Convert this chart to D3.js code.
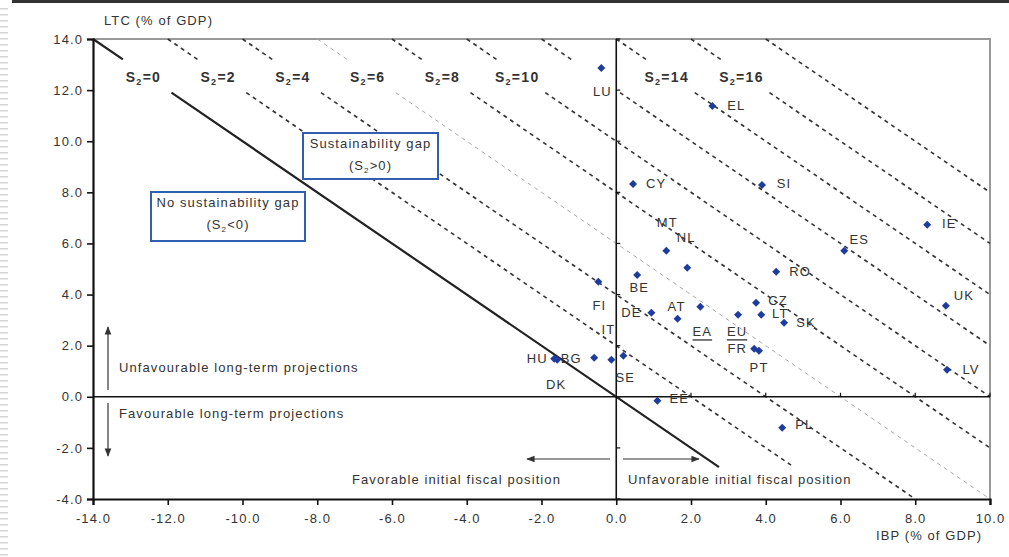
<!DOCTYPE html>
<html>
<head>
<meta charset="utf-8">
<script src="https://cdn.jsdelivr.net/npm/d3@7"></script>
<style>
  body { margin: 0; background: #fff; }
  svg { font-family: "Liberation Sans", Arial, sans-serif; }
  .lbl { font-size: 13px; fill: #333; letter-spacing: 1.1px; }
</style>
</head>
<body>
<svg id="chart" width="1009" height="557"></svg>
<script>
// Country codes and values (IBP on x, LTC on y)
const countries = ["LU","EL","CY","SI","IE","ES","MT","NL","RO","BE","FI","DE","AT","EA","EU","CZ","LT","SK","UK","FR","PT","LV","PL","EE","HU","DK","BG","IT","SE"];
const ibpValues = [-0.40, 2.57, 0.45, 3.90, 8.32, 6.10, 1.34, 1.90, 4.28, 0.56, -0.48, 0.94, 1.64, 2.25, 3.26, 3.74, 3.88, 4.49, 8.82, 3.69, 3.82, 8.85, 4.44, 1.10, -1.66, -1.58, -0.59, -0.13, 0.19];
const ltcValues = [12.87, 11.38, 8.33, 8.29, 6.73, 5.71, 5.71, 5.05, 4.89, 4.77, 4.50, 3.29, 3.05, 3.52, 3.21, 3.68, 3.21, 2.90, 3.56, 1.88, 1.80, 1.06, -1.21, -0.16, 1.49, 1.45, 1.53, 1.45, 1.61];
const aggregates = ["EA", "EU"];

// S2 iso-lines (IBP + LTC = S2)
const s2Levels = [0, 2, 4, 6, 8, 10, 12, 14, 16, 18];
const s2Labelled = [0, 2, 4, 6, 8, 10, 14, 16];
const s2Light = [6];

// Axis ticks
const xTicks = [-14, -12, -10, -8, -6, -4, -2, 0, 2, 4, 6, 8, 10];
const yTicks = [-4, -2, 0, 2, 4, 6, 8, 10, 12, 14];

// label offsets in px from each point [dx, dy]
const labelOffset = {
  LU:[1,24], EL:[24,0], CY:[23,0], SI:[22,-1], IE:[22,-1], ES:[15,-11], MT:[1,-28], NL:[-1,-30],
  RO:[24,0], BE:[2,13], FI:[1,24], DE:[-20,0], AT:[-1,-12], EA:[2,25], EU:[-1,17], CZ:[22,-2],
  LT:[19,-1], SK:[22,0], UK:[18,-10], FR:[-17,0], PT:[0,17], LV:[24,0], PL:[22,-3], EE:[22,-2],
  HU:[-17,0], DK:[-1,25], BG:[-23,1], IT:[-3,-30], SE:[2,22]
};

const svg = d3.select("#chart");
const x = d3.scaleLinear().domain([-14, 10]).range([93, 990]);
const y = d3.scaleLinear().domain([-4, 14]).range([499, 39]);

// page decorations: top rule and left ruler
svg.append("line").attr("x1", 12).attr("x2", 1009).attr("y1", 1.5).attr("y2", 1.5)
  .attr("stroke", "#333").attr("stroke-width", 3);
svg.append("line").attr("x1", 4).attr("x2", 4).attr("y1", 8).attr("y2", 557)
  .attr("stroke", "#d6d6d6").attr("stroke-width", 8).attr("stroke-dasharray", "1.5 4.5");

// top and right frame
svg.append("path")
  .attr("d", `M${x(-14)},${y(14)}H${x(10)}V${y(-4)}`)
  .attr("fill", "none").attr("stroke", "#999").attr("stroke-width", 2);

// S2 lines, with a gap where the labels sit
const gapTop = 13.2, gapBottom = 11.9;
s2Levels.forEach(c => {
  const x0 = Math.max(-14, c - 14), y0 = c - x0;
  let x1, y1;
  if (c < 4) { y1 = -2.75; x1 = c - y1; }
  else if (c - 10 >= -4) { x1 = 10; y1 = c - 10; }
  else { y1 = -4; x1 = c + 4; }
  const segs = c === 18 ? [[[x0, y0], [x1, y1]]]
    : [[[x0, y0], [c - gapTop, gapTop]], [[c - gapBottom, gapBottom], [x1, y1]]];
  const light = s2Light.includes(c);
  segs.forEach(s => {
    svg.append("line")
      .attr("x1", x(s[0][0])).attr("y1", y(s[0][1]))
      .attr("x2", x(s[1][0])).attr("y2", y(s[1][1]))
      .attr("stroke", c === 0 ? "#222" : (light ? "#aaa" : "#333"))
      .attr("stroke-width", c === 0 ? 2.2 : (light ? 1 : 1.6))
      .attr("stroke-dasharray", c === 0 ? null : "4 4");
  });
});

// S2 labels
s2Labelled.forEach(c => {
  const t = svg.append("text")
    .attr("x", x(c - 12.65)).attr("y", y(12.52) + 5)
    .attr("text-anchor", "middle").attr("letter-spacing", 1.3)
    .attr("font-size", 14).attr("font-weight", "bold").attr("fill", "#333");
  t.append("tspan").text("S");
  t.append("tspan").attr("font-size", 9).attr("dy", 3).text("2");
  t.append("tspan").attr("dy", -3).text("=" + c);
});

// inner axes through 0
svg.append("line").attr("x1", x(0)).attr("x2", x(0)).attr("y1", y(14)).attr("y2", y(-4))
  .attr("stroke", "#111").attr("stroke-width", 1.6);
svg.append("line").attr("x1", x(-14)).attr("x2", x(10)).attr("y1", y(0)).attr("y2", y(0))
  .attr("stroke", "#111").attr("stroke-width", 1.6);
svg.selectAll(".ity").data(yTicks).join("line")
  .attr("x1", x(0)).attr("x2", x(0) + 4).attr("y1", d => y(d)).attr("y2", d => y(d))
  .attr("stroke", "#111").attr("stroke-width", 1.2);
svg.selectAll(".itx").data(xTicks.filter(d => d > 0)).join("line")
  .attr("x1", d => x(d)).attr("x2", d => x(d)).attr("y1", y(0)).attr("y2", y(0) - 4)
  .attr("stroke", "#111").attr("stroke-width", 1.2);

// boxes
function box(x0, y0, x1, y1, line1, sign) {
  svg.append("rect").attr("x", x0).attr("y", y0).attr("width", x1 - x0).attr("height", y1 - y0)
    .attr("fill", "#fff").attr("stroke", "#2f5fae").attr("stroke-width", 2);
  const cx = (x0 + x1) / 2;
  svg.append("text").attr("class", "lbl").attr("x", cx).attr("y", y0 + 15)
    .attr("text-anchor", "middle").text(line1);
  const t = svg.append("text").attr("class", "lbl").attr("x", cx).attr("y", y0 + 37)
    .attr("text-anchor", "middle");
  t.append("tspan").text("(S");
  t.append("tspan").attr("font-size", 8).attr("dy", 3).text("2");
  t.append("tspan").attr("dy", -3).text(sign + "0)");
}
box(303, 133, 438, 179, "Sustainability gap", ">");
box(151, 192, 305, 241, "No sustainability gap", "<");

// arrows
const defs = svg.append("defs");
defs.append("marker").attr("id", "ah").attr("viewBox", "0 0 10 10")
  .attr("refX", 9).attr("refY", 5).attr("markerWidth", 7).attr("markerHeight", 7)
  .attr("orient", "auto-start-reverse")
  .append("path").attr("d", "M0,1L10,5L0,9Z").attr("fill", "#333");
function arrow(ax, ay, bx, by) {
  svg.append("line").attr("x1", ax).attr("y1", ay).attr("x2", bx).attr("y2", by)
    .attr("stroke", "#333").attr("stroke-width", 1.2).attr("marker-end", "url(#ah)");
}
arrow(108, 390, 108, 327);
arrow(108, 403, 108, 456);
arrow(610, 459, 527, 459);
arrow(623, 459, 699, 459);

svg.append("text").attr("class", "lbl").attr("x", 119).attr("y", 372).text("Unfavourable long-term projections");
svg.append("text").attr("class", "lbl").attr("x", 119).attr("y", 418).text("Favourable long-term projections");
svg.append("text").attr("class", "lbl").attr("x", 352).attr("y", 484).text("Favorable initial fiscal position");
svg.append("text").attr("class", "lbl").attr("x", 628).attr("y", 484).text("Unfavorable initial fiscal position");

// axes
const yAxis = svg.append("g").attr("transform", `translate(${x(-14)},0)`)
  .call(d3.axisLeft(y).tickValues(yTicks).tickFormat(d => d.toFixed(1)).tickSize(6).tickPadding(4));
const xAxis = svg.append("g").attr("transform", `translate(0,${y(-4)})`)
  .call(d3.axisBottom(x).tickValues(xTicks).tickFormat(d => d.toFixed(1)).tickSize(6).tickPadding(9));
[yAxis, xAxis].forEach(a => {
  a.select(".domain").attr("stroke", "#111").attr("stroke-width", 2.2);
  a.selectAll(".tick line").attr("stroke", "#111").attr("stroke-width", 1.6);
  a.selectAll(".tick text").attr("class", "lbl").attr("font-family", "Liberation Sans, Arial, sans-serif");
});

svg.append("text").attr("class", "lbl").attr("x", 104).attr("y", 25).text("LTC (% of GDP)");
svg.append("text").attr("class", "lbl").attr("x", 876).attr("y", 540).text("IBP (% of GDP)");

// points
const pts = countries.map((c, i) => ({ code: c, ibp: ibpValues[i], ltc: ltcValues[i] }));
svg.selectAll(".pt").data(pts).join("path")
  .attr("d", d3.symbol(d3.symbolSquare, 32))
  .attr("transform", d => `translate(${x(d.ibp)},${y(d.ltc)}) rotate(45)`)
  .attr("fill", "#1e3c9c");

svg.selectAll(".pl").data(pts).join("text")
  .attr("class", "lbl")
  .attr("x", d => x(d.ibp) + labelOffset[d.code][0])
  .attr("y", d => y(d.ltc) + labelOffset[d.code][1])
  .attr("text-anchor", "middle").attr("dominant-baseline", "central")
  .attr("text-decoration", d => aggregates.includes(d.code) ? "underline" : null)
  .text(d => d.code);
</script>
</body>
</html>
